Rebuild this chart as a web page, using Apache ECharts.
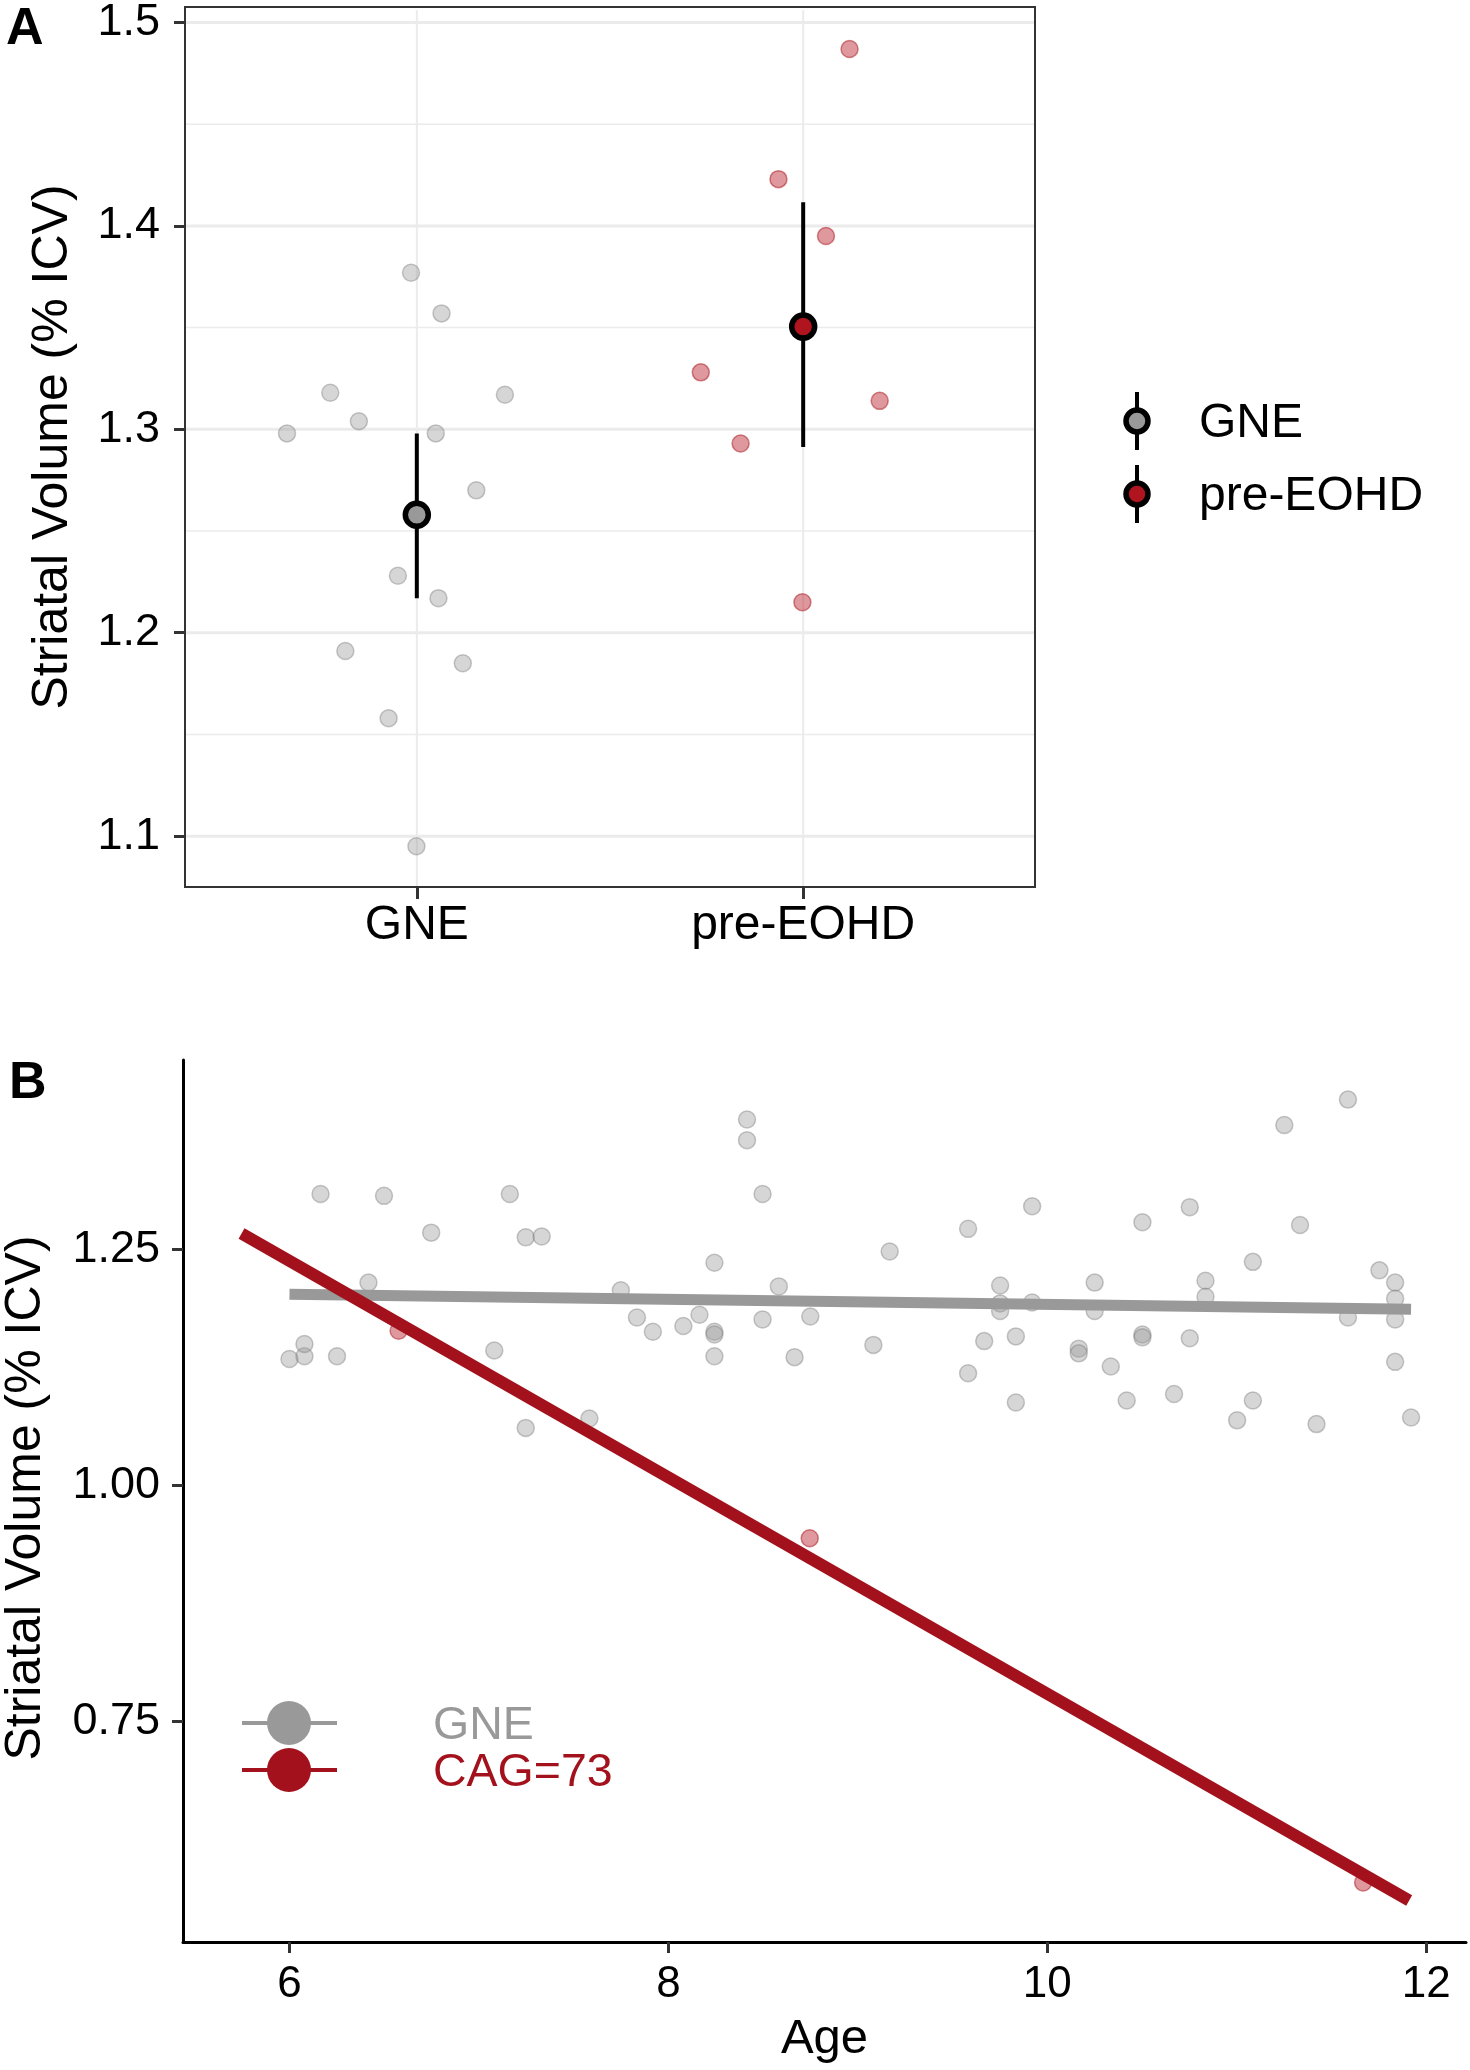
<!DOCTYPE html>
<html>
<head>
<meta charset="utf-8">
<script src="https://cdn.jsdelivr.net/npm/echarts@6/dist/echarts.min.js"></script>
<style>
html,body{margin:0;padding:0;background:#fff;}
#chart{width:1470px;height:2070px;}
</style>
</head>
<body>
<div id="chart"></div>
<script>
// ---------------- Panel A data ----------------
const groupsA = ['GNE', 'pre-EOHD'];
// jittered positions (1 = GNE, 2 = pre-EOHD) and values
const gneA_x = [0.985, 1.064, 0.776, 1.228, 0.850, 0.664, 1.049, 1.154, 0.951, 1.056, 0.815, 1.119, 0.927, 0.999];
const gneA_y = [1.377, 1.357, 1.318, 1.317, 1.304, 1.298, 1.298, 1.270, 1.228, 1.217, 1.191, 1.185, 1.158, 1.095];
const preA_x = [2.120, 1.936, 2.059, 1.735, 2.198, 1.838, 1.998];
const preA_y = [1.487, 1.423, 1.395, 1.328, 1.314, 1.293, 1.215];
const meansA = [1.258, 1.3505];
const lowerA = [1.217, 1.2913];
const upperA = [1.298, 1.4116];
const yTicksA = [1.1, 1.2, 1.3, 1.4, 1.5];
const yMinorA = [1.15, 1.25, 1.35, 1.45];
const xTicksA = [1, 2];

// ---------------- Panel B data ----------------
const gneB_age = [6.164, 6.499, 7.163, 6.748, 7.247, 7.331, 8.415, 8.415, 8.497, 8.243,
  6.417, 7.749, 7.834, 7.918, 8.079, 8.164, 8.243, 8.243, 8.243, 8.497,
  6.000, 6.079, 6.079, 6.251, 7.081, 7.247, 7.583, 8.583, 8.749, 8.666,
  9.168, 9.082, 9.582, 9.751, 9.751, 9.751, 9.920, 9.920, 9.667, 9.834,
  9.582, 9.834, 10.166, 10.166, 10.250, 10.250, 10.335, 10.419, 10.502, 10.502,
  10.502, 10.669, 10.752, 10.752, 10.835, 10.835, 11.002, 11.085, 11.085, 11.251,
  11.334, 11.421, 11.587, 11.587, 11.753, 11.836, 11.836, 11.836, 11.836, 11.920];
const gneB_vol = [1.309, 1.307, 1.309, 1.268, 1.263, 1.264, 1.388, 1.366, 1.309, 1.236,
  1.215, 1.207, 1.178, 1.163, 1.169, 1.181, 1.163, 1.160, 1.137, 1.176,
  1.134, 1.137, 1.150, 1.137, 1.143, 1.061, 1.071, 1.211, 1.179, 1.136,
  1.248, 1.149, 1.272, 1.212, 1.193, 1.185, 1.296, 1.194, 1.153, 1.158,
  1.119, 1.088, 1.145, 1.140, 1.215, 1.185, 1.126, 1.090, 1.279, 1.160,
  1.157, 1.097, 1.295, 1.156, 1.217, 1.200, 1.069, 1.237, 1.090, 1.382,
  1.276, 1.065, 1.409, 1.178, 1.228, 1.215, 1.198, 1.176, 1.131, 1.072];
const cagB_age = [6.576, 8.746, 11.667];
const cagB_vol = [1.164, 0.944, 0.579];
// fitted lines (end points)
const fitGNE_age = [6.00, 11.92];
const fitGNE_vol = [1.2026, 1.1867];
const fitCAG_age = [5.747, 11.91];
const fitCAG_vol = [1.267, 0.560];
const xTicksB = [6, 8, 10, 12];
const yTicksB = [0.75, 1.00, 1.25];

// ---------------- styling ----------------
const FONT = "'Liberation Sans', Arial, Helvetica, sans-serif";
const GRAY = '#999999';
const RED = '#A3121C';
const gridA = {left: 185, top: 7, width: 850, height: 880};
const gridB = {left: 183, top: 1060, width: 1283, height: 882};
const xRangeA = [0.4, 2.6], yRangeA = [1.075, 1.506];
const xRangeB = [5.438, 12.21], yRangeB = [0.516, 1.451];

const zip = (a, b) => a.map((v, i) => [v, b[i]]);

const gridLinesA = [
  ...yMinorA.map(v => [0, v, 1.5]),
  ...yTicksA.map(v => [0, v, 3]),
  ...xTicksA.map(v => [1, v, 2])
];

const tickStyle = {color: '#333', width: 3};
const labelBase = {color: '#000', fontFamily: FONT};
const grayPt = {color: 'rgba(153,153,153,0.5)', borderColor: 'rgba(120,120,120,0.5)', borderWidth: 1.5};
const redPt = {color: 'rgba(180,20,35,0.55)', borderColor: 'rgba(165,15,21,0.6)', borderWidth: 1.5};

const option = {
  animation: false,
  backgroundColor: '#fff',
  grid: [
    Object.assign({}, gridA, {show: false}),
    Object.assign({}, gridB, {show: false})
  ],
  xAxis: [
    {gridIndex: 0, type: 'value', min: xRangeA[0], max: xRangeA[1],
      axisLine: {show: false}, splitLine: {show: false},
      axisTick: {show: true, customValues: xTicksA, length: 12, lineStyle: tickStyle},
      axisLabel: Object.assign({customValues: xTicksA, fontSize: 48, margin: 15,
        formatter: v => groupsA[Math.round(v) - 1]}, labelBase)},
    {gridIndex: 1, type: 'value', min: xRangeB[0], max: xRangeB[1],
      axisLine: {show: true, onZero: false, lineStyle: {color: '#000', width: 3}},
      splitLine: {show: false},
      axisTick: {show: true, customValues: xTicksB, length: 11, lineStyle: tickStyle},
      axisLabel: Object.assign({customValues: xTicksB, fontSize: 44, margin: 21,
        formatter: v => String(v)}, labelBase)}
  ],
  yAxis: [
    {gridIndex: 0, type: 'value', min: yRangeA[0], max: yRangeA[1],
      axisLine: {show: false}, splitLine: {show: false},
      axisTick: {show: true, customValues: yTicksA, length: 11, lineStyle: tickStyle},
      axisLabel: Object.assign({customValues: yTicksA, fontSize: 45, lineHeight: 36, margin: 25,
        formatter: v => v.toFixed(1)}, labelBase)},
    {gridIndex: 1, type: 'value', min: yRangeB[0], max: yRangeB[1],
      axisLine: {show: true, onZero: false, lineStyle: {color: '#000', width: 3}},
      splitLine: {show: false},
      axisTick: {show: true, customValues: yTicksB, length: 11, lineStyle: tickStyle},
      axisLabel: Object.assign({customValues: yTicksB, fontSize: 45, margin: 23,
        formatter: v => v.toFixed(2)}, labelBase)}
  ],
  series: [
    // panel A grid lines
    {type: 'custom', xAxisIndex: 0, yAxisIndex: 0, z: 1, silent: true,
      data: gridLinesA,
      renderItem: (params, api) => {
        const o = api.value(0), v = api.value(1), w = api.value(2);
        let p1, p2;
        if (o === 0) { p1 = api.coord([xRangeA[0], v]); p2 = api.coord([xRangeA[1], v]); }
        else { p1 = api.coord([v, yRangeA[0]]); p2 = api.coord([v, yRangeA[1]]); }
        return {type: 'line', shape: {x1: p1[0], y1: p1[1], x2: p2[0], y2: p2[1]},
          style: {stroke: '#EBEBEB', lineWidth: w}};
      }},
    {type: 'scatter', name: 'GNE', xAxisIndex: 0, yAxisIndex: 0, z: 2,
      data: zip(gneA_x, gneA_y), symbolSize: 17, itemStyle: grayPt},
    {type: 'scatter', name: 'pre-EOHD', xAxisIndex: 0, yAxisIndex: 0, z: 2,
      data: zip(preA_x, preA_y), symbolSize: 17, itemStyle: redPt},
    // mean + error bars
    {type: 'custom', xAxisIndex: 0, yAxisIndex: 0, z: 3, silent: true,
      data: xTicksA.map((x, i) => [x, meansA[i], lowerA[i], upperA[i], i]),
      renderItem: (params, api) => {
        const x = api.value(0);
        const c = api.coord([x, api.value(1)]);
        const lo = api.coord([x, api.value(2)]);
        const hi = api.coord([x, api.value(3)]);
        const fill = api.value(4) === 0 ? GRAY : '#B0141E';
        return {type: 'group', children: [
          {type: 'line', shape: {x1: lo[0], y1: lo[1], x2: hi[0], y2: hi[1]},
            style: {stroke: '#000', lineWidth: 4}},
          {type: 'circle', shape: {cx: c[0], cy: c[1], r: 11.5},
            style: {fill: fill, stroke: '#000', lineWidth: 5.5}}
        ]};
      }},
    // panel B
    {type: 'scatter', name: 'GNE', xAxisIndex: 1, yAxisIndex: 1, z: 2,
      data: zip(gneB_age, gneB_vol), symbolSize: 17, itemStyle: grayPt},
    {type: 'scatter', name: 'CAG=73', xAxisIndex: 1, yAxisIndex: 1, z: 2,
      data: zip(cagB_age, cagB_vol), symbolSize: 17, itemStyle: redPt},
    {type: 'line', xAxisIndex: 1, yAxisIndex: 1, z: 3, silent: true,
      data: zip(fitGNE_age, fitGNE_vol), showSymbol: false, symbol: 'none',
      lineStyle: {color: GRAY, width: 11, cap: 'butt'}},
    {type: 'line', xAxisIndex: 1, yAxisIndex: 1, z: 4, silent: true,
      data: zip(fitCAG_age, fitCAG_vol), showSymbol: false, symbol: 'none',
      lineStyle: {color: RED, width: 12, cap: 'butt'}}
  ],
  graphic: []
};

function txt(text, x, y, size, opts) {
  opts = opts || {};
  return {
    type: 'text', x: x, y: y, rotation: opts.rotation || 0, z: 100, silent: true,
    style: {
      text: text, x: 0, y: 0,
      font: (opts.bold ? 'bold ' : '') + size + 'px ' + FONT,
      fill: opts.color || '#000',
      align: opts.align || 'left', verticalAlign: 'middle',
      textAlign: opts.align || 'left', textVerticalAlign: 'middle'
    }
  };
}

const G = option.graphic;
// panel A border
G.push({type: 'rect', z: 100, silent: true,
  shape: {x: gridA.left, y: gridA.top, width: gridA.width, height: gridA.height},
  style: {fill: 'none', stroke: '#333', lineWidth: 2}});
// panel labels
G.push(txt('A', 6, 30, 52, {bold: true}));
G.push(txt('B', 9, 1084, 52, {bold: true}));
// axis titles
G.push(txt('Striatal Volume (% ICV)', 53, gridA.top + gridA.height / 2, 50, {align: 'center', rotation: Math.PI / 2}));
G.push(txt('Striatal Volume (% ICV)', 26, 1498, 50, {align: 'center', rotation: Math.PI / 2}));
G.push(txt('Age', gridB.left + gridB.width / 2, 2039, 49, {align: 'center'}));

// legend A
const legA = [{name: groupsA[0], y: 421, fill: GRAY}, {name: groupsA[1], y: 494, fill: '#B0141E'}];
legA.forEach(l => {
  G.push({type: 'line', z: 100, silent: true, shape: {x1: 1137, y1: l.y - 29, x2: 1137, y2: l.y + 29},
    style: {stroke: '#000', lineWidth: 4}});
  G.push({type: 'circle', z: 101, silent: true, shape: {cx: 1137, cy: l.y, r: 11},
    style: {fill: l.fill, stroke: '#000', lineWidth: 5.5}});
  G.push(txt(l.name, 1199, l.y + 3, 48));
});

// legend B
const legB = [{name: 'GNE', y: 1723, color: GRAY}, {name: 'CAG=73', y: 1770, color: RED}];
legB.forEach(l => {
  G.push({type: 'line', z: 100, silent: true, shape: {x1: 242, y1: l.y, x2: 337, y2: l.y},
    style: {stroke: l.color, lineWidth: 4}});
  G.push({type: 'circle', z: 101, silent: true, shape: {cx: 289, cy: l.y, r: 22},
    style: {fill: l.color}});
  G.push(txt(l.name, 433, l.y + 3, 46.5, {color: l.color}));
});

const chart = echarts.init(document.getElementById('chart'), null, {renderer: 'canvas'});
chart.setOption(option);
</script>
</body>
</html>
